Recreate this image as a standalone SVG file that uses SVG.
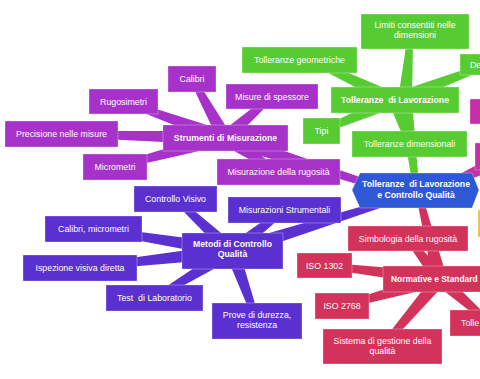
<svg xmlns="http://www.w3.org/2000/svg" width="480" height="379" viewBox="0 0 480 379">
<style>
.p{fill:#a632c9}.g{fill:#56cc32}.i{fill:#5a31d0}.r{fill:#d3325a}.m{fill:#c530a8}.y{fill:#e8c23c}.b{fill:#2f58d4}
.n rect,.n polygon{stroke:#ffffff;stroke-opacity:0.3;stroke-width:1}
text{font-family:"Liberation Sans",Arial,sans-serif;font-size:8.8px;fill:#ffffff;text-anchor:middle}
text.bd{font-weight:bold;font-size:8.7px}
text.st{text-anchor:start}
text.pre{white-space:pre}
</style>
<rect width="480" height="379" fill="#ffffff"/>
<g id="connectors">
<g class="p">
<polygon points="231.1,134.6 194.6,76.6 189.4,79.4 218.9,141.4"/>
<polygon points="227.4,131.4 124,98.7 122,104.3 222.6,144.6"/>
<polygon points="225.2,131 62.1,131 61.9,137 224.8,145"/>
<polygon points="223.2,131.2 114.2,164.1 115.8,169.9 226.8,144.8"/>
<polygon points="229.6,143.3 274,98.8 270,94.3 220.4,132.8"/>
<polygon points="221.3,143.9 276.9,174.5 280.1,169.5 228.8,132.1"/>
<polygon points="222.9,144.7 384.1,191.9 385.9,186.1 227.1,131.3"/>
</g>
<g class="g">
<polygon points="398.1,100.9 413,186.4 419,185.6 411.9,99.1"/>
<polygon points="412,100.6 413,40.2 407,39.8 398,99.4"/>
<polygon points="398,93.7 311.3,57.3 308.7,62.7 392,106.3"/>
<polygon points="392.3,93.5 320.3,128.2 322.7,133.8 397.7,106.5"/>
<polygon points="397.5,106.5 491.1,66.8 488.9,61.2 392.5,93.5"/>
<polygon points="388.4,102.2 406.7,144.9 412.4,143.1 401.7,97.8"/>
</g>
<g class="i">
<polygon points="234.1,257.7 385.9,205.9 384.1,200.1 229.9,244.3"/>
<polygon points="236.7,245.9 177.5,196.8 173.5,201.2 227.3,256.2"/>
<polygon points="233.1,244.1 94,226 93,232 230.9,257.9"/>
<polygon points="231.2,244 79.7,265 80.3,271 232.8,258"/>
<polygon points="228.4,245 152.9,295.4 156.1,300.6 235.6,257"/>
<polygon points="225.4,253.4 254.2,322 259.8,320 238.6,248.6"/>
<polygon points="236.3,256.5 286.3,212.4 282.7,207.6 227.7,245.5"/>
</g>
<g class="r">
<polygon points="446.8,277.3 421.9,194.3 416.1,195.7 433.2,280.7"/>
<polygon points="445.5,274.7 410.4,236.6 405.6,240.4 434.5,283.3"/>
<polygon points="440.8,272.1 324.9,262.5 324.2,268.5 439.2,286"/>
<polygon points="438.1,272.3 341.2,303.1 342.8,308.9 441.9,285.7"/>
<polygon points="434.7,274.5 380.2,344.6 384.8,348.5 445.3,283.5"/>
<polygon points="435.4,284.3 488,325.3 492,320.8 444.6,273.7"/>
</g>
<polygon class="m" points="502.1,151.6 438.7,185.3 441.3,190.7 507.9,164.4"/>
</g>
<g id="root" class="n"><polygon class="b" points="360,173 472,173 479,190 472,208 360,208 352,190"/><text class="bd pre" x="416" y="187">Tolleranze  di Lavorazione</text><text class="bd" x="416" y="198">e Controllo Qualità</text></g>
<g id="strumenti" class="n"><rect class="p" x="163" y="125" width="125" height="26"/><text class="bd" x="225.5" y="141">Strumenti di Misurazione</text></g>
<g id="calibri" class="n"><rect class="p" x="168" y="66" width="48" height="26"/><text x="192" y="82">Calibri</text></g>
<g id="rugosimetri" class="n"><rect class="p" x="89" y="89" width="69" height="25"/><text x="123.5" y="104.5">Rugosimetri</text></g>
<g id="precisione" class="n"><rect class="p" x="5" y="121" width="113" height="26"/><text x="61.5" y="137">Precisione nelle misure</text></g>
<g id="micrometri" class="n"><rect class="p" x="83" y="154" width="64" height="26"/><text x="115" y="170">Micrometri</text></g>
<g id="spessore" class="n"><rect class="p" x="226" y="84" width="92" height="25"/><text x="272" y="99.5">Misure di spessore</text></g>
<g id="rugosita" class="n"><rect class="p" x="217" y="159" width="123" height="26"/><text x="278.5" y="175">Misurazione della rugosità</text></g>
<g id="tollerenze-lav" class="n"><rect class="g" x="331" y="87" width="128" height="26"/><text class="bd pre" x="395" y="103">Tolleranze  di Lavorazione</text></g>
<g id="limiti" class="n"><rect class="g" x="361" y="14" width="108" height="35"/><text x="415" y="28">Limiti consentiti nelle</text><text x="415" y="38">dimensioni</text></g>
<g id="geometriche" class="n"><rect class="g" x="242" y="47" width="115" height="26"/><text x="299.5" y="63">Tolleranze geometriche</text></g>
<g id="tipi" class="n"><rect class="g" x="303" y="118" width="37" height="26"/><text x="321.5" y="134">Tipi</text></g>
<g id="dimensionali" class="n"><rect class="g" x="352" y="131" width="115" height="26"/><text x="409.5" y="147">Tolleranze dimensionali</text></g>
<g id="de" class="n"><rect class="g" x="460" y="54" width="30" height="21"/><text class="st" x="470" y="68">De</text></g>
<g id="metodi" class="n"><rect class="i" x="182" y="233" width="101" height="36"/><text class="bd" x="232.5" y="247">Metodi di Controllo</text><text class="bd" x="232.5" y="257">Qualità</text></g>
<g id="visivo" class="n"><rect class="i" x="134" y="186" width="83" height="26"/><text x="175.5" y="202">Controllo Visivo</text></g>
<g id="calibri-micro" class="n"><rect class="i" x="45" y="216" width="97" height="26"/><text x="93.5" y="232">Calibri, micrometri</text></g>
<g id="ispezione" class="n"><rect class="i" x="23" y="255" width="114" height="26"/><text x="80" y="271">Ispezione visiva diretta</text></g>
<g id="test" class="n"><rect class="i" x="106" y="285" width="97" height="26"/><text class="pre" x="154.5" y="301">Test  di Laboratorio</text></g>
<g id="prove" class="n"><rect class="i" x="212" y="303" width="90" height="36"/><text x="257" y="318">Prove di durezza,</text><text x="257" y="328">resistenza</text></g>
<g id="strumentali" class="n"><rect class="i" x="228" y="197" width="113" height="26"/><text x="284.5" y="213">Misurazioni Strumentali</text></g>
<g id="normative" class="n"><rect class="r" x="383" y="266" width="110" height="26"/><text class="bd st" x="391" y="282" style="font-size:8.4px">Normative e Standard</text></g>
<g id="simbologia" class="n"><rect class="r" x="348" y="226" width="120" height="25"/><text x="408" y="241.5">Simbologia della rugosità</text></g>
<g id="iso1302" class="n"><rect class="r" x="297" y="253" width="55" height="25"/><text x="324.5" y="268.5">ISO 1302</text></g>
<g id="iso2768" class="n"><rect class="r" x="315" y="293" width="54" height="26"/><text x="342" y="309">ISO 2768</text></g>
<g id="sistema" class="n"><rect class="r" x="323" y="329" width="119" height="35"/><text x="382.5" y="344">Sistema di gestione della</text><text x="382.5" y="354">qualità</text></g>
<g id="tolle" class="n"><rect class="r" x="450" y="310" width="40" height="26"/><text class="st" x="461" y="326">Tolle</text></g>
<g id="magenta-1" class="n"><rect class="m" x="470" y="99" width="20" height="25"/></g>
<g id="magenta-2" class="n"><rect class="m" x="475" y="143" width="20" height="27"/></g>
<g id="yellow-1" class="n"><rect class="y" x="478" y="210" width="12" height="27"/></g>
</svg>
